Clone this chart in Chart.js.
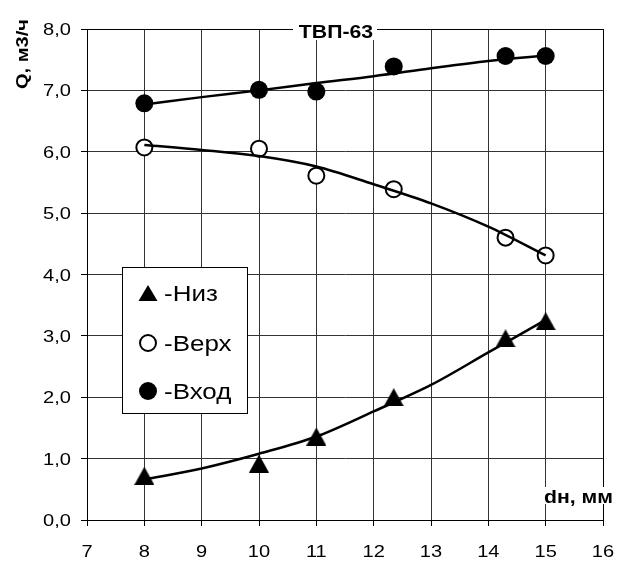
<!DOCTYPE html>
<html>
<head>
<meta charset="utf-8">
<script src="https://cdn.jsdelivr.net/npm/chart.js@4"></script>
<style>
  body { margin: 0; background: #fff; }
  #wrap { width: 617px; height: 561px; }
</style>
</head>
<body>
<div id="wrap"><canvas id="chartTvp" width="617" height="561"></canvas></div>
<script>
const ctx = document.getElementById('chartTvp');

// measured points, dн (mm)
const xPoints = [8, 10, 11, 12.35, 14.3, 15];
const nizValues = [0.72, 0.92, 1.36, 2.0, 2.96, 3.24];
const verhValues = [6.07, 6.05, 5.61, 5.39, 4.6, 4.31];
const vhodValues = [6.79, 7.01, 6.98, 7.39, 7.56, 7.56];

// trend lines
const xTrend = [8, 9, 10, 11, 12, 13, 14, 15];
const nizTrend = [0.66, 0.84, 1.08, 1.36, 1.77, 2.2, 2.73, 3.26];
const verhTrend = [6.11, 6.03, 5.93, 5.76, 5.47, 5.16, 4.78, 4.31];
const vhodTrend = [6.77, 6.89, 7.0, 7.12, 7.23, 7.36, 7.48, 7.57];

const xTickLabels = ['7', '8', '9', '10', '11', '12', '13', '14', '15', '16'];
const yTickLabels = ['0,0', '1,0', '2,0', '3,0', '4,0', '5,0', '6,0', '7,0', '8,0'];

const legendLabels = ['-Низ', '-Верх', '-Вход'];
const chartTitle = 'ТВП-63';
const yTitle = 'Q, м3/ч';
const xTitle = 'dн, мм';

const FONT = '"Liberation Sans", Arial, sans-serif';
const SX = 1.18; // the original text is drawn a bit wide

function pts(xs, ys) {
  return xs.map((x, i) => ({ x: x, y: ys[i] }));
}

function drawTriangle(c, cx, cy, w, h) {
  c.beginPath();
  c.moveTo(cx, cy - h / 2);
  c.lineTo(cx + w / 2, cy + h / 2);
  c.lineTo(cx - w / 2, cy + h / 2);
  c.closePath();
  c.fill();
}

function wideText(c, text, x, y, align) {
  c.save();
  c.translate(x, y);
  c.scale(SX, 1);
  c.textAlign = align;
  c.fillText(text, 0, 0);
  c.restore();
}

// triangle centred on its box, like the original markers
const triImg = document.createElement('canvas');
triImg.width = 20;
triImg.height = 18;
const tctx = triImg.getContext('2d');
tctx.fillStyle = '#000';
drawTriangle(tctx, 10, 9, 20, 18);

const decor = {
  id: 'decor',
  afterDraw(chart) {
    const c = chart.ctx;
    const a = chart.chartArea;
    const xs = chart.scales.x;
    const ys = chart.scales.y;
    c.save();
    c.strokeStyle = '#000';
    c.lineWidth = 1;
    c.strokeRect(Math.round(a.left) + 0.5, Math.round(a.top) + 0.5,
      Math.round(a.right - a.left), Math.round(a.bottom - a.top));

    // tick labels
    c.fillStyle = '#000';
    c.textBaseline = 'alphabetic';
    c.font = '17px ' + FONT;
    xs.ticks.forEach((t, i) => {
      wideText(c, xTickLabels[i], xs.getPixelForValue(t.value), 557, 'center');
    });
    ys.ticks.forEach((t, i) => {
      wideText(c, yTickLabels[i], 71, ys.getPixelForValue(t.value) + 6, 'right');
    });

    // title over the top border
    c.font = 'bold 18px ' + FONT;
    c.fillStyle = '#fff';
    c.fillRect(293, 18, 84, 22);
    c.fillStyle = '#000';
    wideText(c, chartTitle, 336, 38, 'center');

    // x title
    const w = c.measureText(xTitle).width * SX;
    c.fillStyle = '#fff';
    c.fillRect(611 - w, 487, w + 2, 17);
    c.fillStyle = '#000';
    wideText(c, xTitle, 613, 503, 'right');

    // y title
    c.save();
    c.translate(28, 54);
    c.rotate(-Math.PI / 2);
    c.font = 'bold 17px ' + FONT;
    wideText(c, yTitle, 0, 0, 'center');
    c.restore();

    // legend
    c.fillStyle = '#fff';
    c.fillRect(122.5, 267.5, 125, 146);
    c.strokeRect(122.5, 267.5, 125, 146);
    const rows = [293, 343, 391];
    c.fillStyle = '#000';
    drawTriangle(c, 148, rows[0], 19, 16);
    c.beginPath();
    c.arc(148, rows[1], 8, 0, Math.PI * 2);
    c.fillStyle = '#fff';
    c.fill();
    c.lineWidth = 2;
    c.stroke();
    c.beginPath();
    c.arc(148, rows[2], 9, 0, Math.PI * 2);
    c.fillStyle = '#000';
    c.fill();
    c.font = '22px ' + FONT;
    legendLabels.forEach((t, i) => wideText(c, t, 164, rows[i] + 8, 'left'));
    c.restore();
  }
};

new Chart(ctx, {
  type: 'scatter',
  data: {
    datasets: [
      {
        label: 'Низ тренд', data: pts(xTrend, nizTrend), showLine: true,
        borderColor: '#000', borderWidth: 2.5, pointRadius: 0,
        cubicInterpolationMode: 'monotone', order: 1
      },
      {
        label: 'Верх тренд', data: pts(xTrend, verhTrend), showLine: true,
        borderColor: '#000', borderWidth: 2.5, pointRadius: 0,
        cubicInterpolationMode: 'monotone', order: 1
      },
      {
        label: 'Вход тренд', data: pts(xTrend, vhodTrend), showLine: true,
        borderColor: '#000', borderWidth: 2.5, pointRadius: 0,
        cubicInterpolationMode: 'monotone', order: 1
      },
      {
        label: 'Низ', data: pts(xPoints, nizValues), showLine: false,
        pointStyle: triImg, order: 2
      },
      {
        label: 'Верх', data: pts(xPoints, verhValues), showLine: false,
        pointStyle: 'circle', pointRadius: 8, pointBorderWidth: 2,
        pointBackgroundColor: '#fff', pointBorderColor: '#000', order: 2
      },
      {
        label: 'Вход', data: pts(xPoints, vhodValues), showLine: false,
        pointStyle: 'circle', pointRadius: 9, pointBorderWidth: 0,
        pointBackgroundColor: '#000', pointBorderColor: '#000', order: 2
      }
    ]
  },
  options: {
    responsive: false,
    animation: false,
    layout: { padding: { top: 29, right: 14, left: 0, bottom: 0 } },
    plugins: {
      legend: { display: false },
      tooltip: { enabled: false }
    },
    scales: {
      x: {
        type: 'linear', min: 7, max: 16,
        afterFit: s => { s.height = 41; },
        ticks: { stepSize: 1, display: false },
        grid: { color: '#333', tickColor: '#000', tickLength: 6 },
        border: { color: '#000' }
      },
      y: {
        min: 0, max: 8,
        afterFit: s => { s.width = 87; },
        ticks: { stepSize: 1, display: false },
        grid: { color: '#333', tickColor: '#000', tickLength: 6 },
        border: { color: '#000' }
      }
    }
  },
  plugins: [decor]
});
</script>
</body>
</html>
